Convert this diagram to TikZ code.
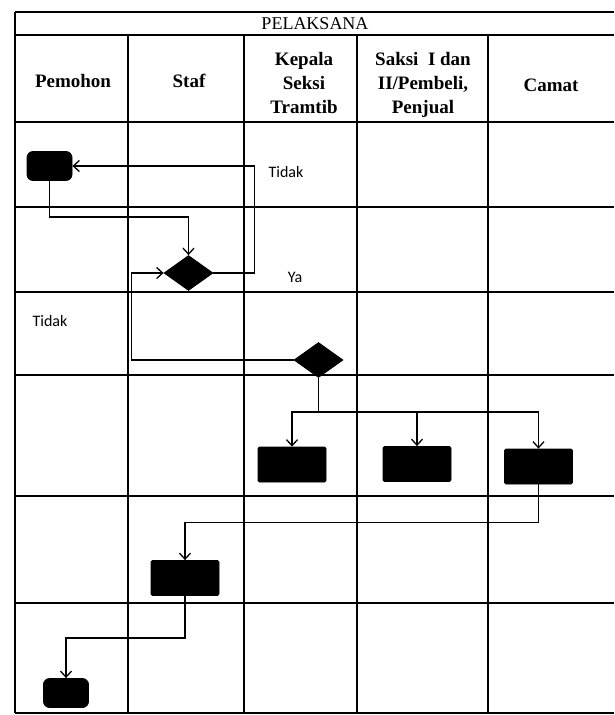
\documentclass[tikz,border=0pt]{standalone}
\usepackage{fontspec}
\setmainfont{Liberation Serif}
\newfontfamily\labelfont{Carlito}
\usetikzlibrary{shapes.geometric,arrows.meta}

\begin{document}
\begin{tikzpicture}[x=1pt,y=-1pt,
  lane/.style={line width=1.3pt},
  act/.style={fill=black,draw=black,line width=0.8pt,minimum width=68pt,
    minimum height=35pt,inner sep=0pt,rounded corners=1.5pt},
  ends/.style={act,minimum width=45pt,minimum height=29pt,rounded corners=6pt},
  decision/.style={diamond,fill=black,draw=black,line width=0.8pt,
    minimum width=49pt,minimum height=35pt,inner sep=0pt},
  flow/.style={line width=1.3pt,-{Straight Barb[length=6pt,width=11pt]}},
  head/.style={font=\bfseries\fontsize{19}{24}\selectfont,align=center},
  tag/.style={font=\labelfont\fontsize{16}{18}\selectfont}]
  \useasboundingbox (0,0) rectangle (614,715);
  % swimlane table
  \draw[lane] (15,12) -- (614,12);
  \draw[lane] (15,12) -- (15,713);
  \foreach \y in {35,122,207,292,375,496,603,713}
    \draw[lane] (15,\y) -- (614,\y);
  \foreach \x in {128,244,357,488}
    \draw[lane] (\x,35) -- (\x,713);
  % headers
  \node (plk) at (315,24) {\fontsize{18}{20}\selectfont PELAKSANA};
  \node[head] (hpem) at (73,81) {Pemohon};
  \node[head] (hstaf) at (189,81) {Staf};
  \node[head] (hkep) at (304,83) {Kepala\\Seksi\\Tramtib};
  \node[head] (hsak) at (423,85) {Saksi\ \ I dan\\II/Pembeli,\\Penjual};
  \node[head] (hcam) at (551,85) {Camat};
  % activities
  \node[ends] (start) at (49.5,166) {};
  \node[decision] (dec1) at (188.5,273) {};
  \node[decision] (dec2) at (318.5,360) {};
  \node[act] (kep) at (292,464.5) {};
  \node[act] (sak) at (417,464) {};
  \node[act] (cam) at (538.5,466.5) {};
  \node[act] (staf) at (185,578) {};
  \node[ends] (finish) at (66,693) {};
  % labels
  \node[tag] (tno1) at (286,172) {Tidak};
  \node[tag] (tya) at (295,277) {Ya};
  \node[tag] (tno2) at (50,321) {Tidak};
  % flows
  \draw[flow] (start.south) -- ++(0,36) -| (dec1.north);
  \draw[flow] (dec1.east) -- ++(41,0) |- (start.east);
  \draw[flow] (dec2.west) -- ++(-162,0) |- (dec1.west);
  \draw[line width=1.3pt] (dec2.south) -- ++(0,34) coordinate (split);
  \draw[flow] (split) -| (kep.north);
  \draw[flow] (split) -| (sak.north);
  \draw[flow] (split) -| (cam.north);
  \draw[flow] (cam.south) -- ++(0,38) -| (staf.north);
  \draw[flow] (staf.south) -- ++(0,42) -| (finish.north);
\end{tikzpicture}
\end{document}
